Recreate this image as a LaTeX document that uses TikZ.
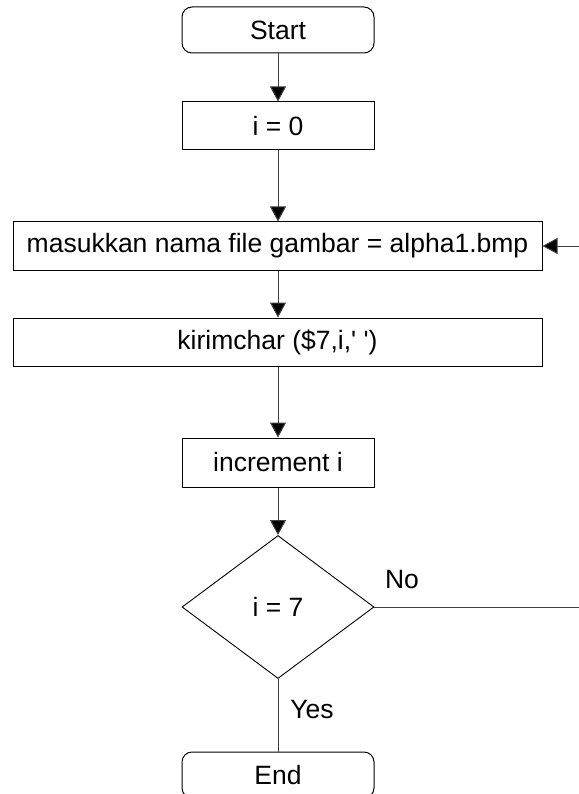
\documentclass[tikz,border=0pt]{standalone}
\usepackage{fontspec}
\setmainfont{Liberation Sans}
\usetikzlibrary{arrows.meta,shapes.geometric}
\begin{document}
\begin{tikzpicture}[x=1pt,y=-1pt,
  every node/.style={font=\fontsize{26.5}{31}\selectfont, text=black},
  box/.style={draw=black, line width=1pt, inner sep=0pt, rectangle},
  term/.style={box, rounded corners=10pt},
  dec/.style={draw=black, line width=0.9pt, diamond, inner sep=0pt, minimum width=192pt, minimum height=143pt},
  conn/.style={draw=black!75, line width=1pt},
  arr/.style={conn, -{Triangle[length=15pt,width=16pt,fill=black]}},
  lbl/.style={inner sep=0pt}
]
\useasboundingbox (0,0) rectangle (578,794);
\node[term, minimum width=192pt, minimum height=46pt] (start) at (278,30) {Start};
\node[box, minimum width=192pt, minimum height=48pt] (init) at (278,126) {i = 0};
\node[box, minimum width=529pt, minimum height=48pt] (mask) at (277.5,246) {masukkan nama file gambar = alpha1.bmp};
\node[box, minimum width=529pt, minimum height=48pt] (kirim) at (277.5,342) {kirimchar (\$7,i,\textquotesingle\ \textquotesingle)};
\node[box, minimum width=192pt, minimum height=49pt] (inc) at (278,462.5) {increment i};
\node[dec] (cond) at (278,607) {i = 7};
\node[term, minimum width=192pt, minimum height=46pt] (end) at (278,775) {End};
\node[lbl] (no) at (402,580) {No};
\node[lbl] (yes) at (312,710) {Yes};
\draw[arr] (start) -- (init);
\draw[arr] (init.south) -- (init.south |- mask.north);
\draw[arr] (init.south |- mask.south) -- (init.south |- kirim.north);
\draw[arr] (init.south |- kirim.south) -- (inc.north);
\draw[arr] (inc) -- (cond);
\draw[conn] (cond) -- (end);
\coordinate (loopx) at (600,607);
\draw[arr] (cond.east) -- (loopx) |- (mask.east);
\end{tikzpicture}
\end{document}
